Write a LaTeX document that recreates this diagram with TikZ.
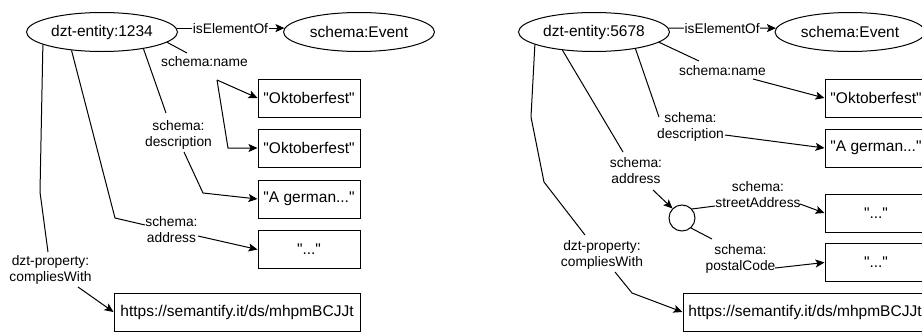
\documentclass[tikz,border=0pt]{standalone}
\usepackage{fontspec}
\setmainfont{Liberation Sans}
\newfontfamily\plainsans{Liberation Sans}
\usetikzlibrary{shapes.geometric,arrows.meta}
\begin{document}
\begin{tikzpicture}[x=1pt,y=-1pt,
  ent/.style={draw, ellipse, line width=1pt, minimum width=151pt, minimum height=39pt, inner sep=0pt, font=\plainsans\fontsize{15.5}{18}\selectfont},
  lit/.style={draw, rectangle, line width=1pt, minimum width=102pt, minimum height=38pt, inner sep=0pt, font=\plainsans\fontsize{15.5}{18}\selectfont},
  lbl/.style={align=center, inner sep=1pt, font=\plainsans\fontsize{13.8}{16}\selectfont},
  edge/.style={line width=1pt},
  arr/.style={line width=1pt, -{Stealth[length=9pt,width=8pt,inset=2pt]}},
  blank/.style={draw, circle, line width=1pt, minimum size=26pt, inner sep=0pt},
]
\clip (0,0) rectangle (922,335);
\fill[white] (0,0) rectangle (922,335);

% ---------------- left graph ----------------
\node[ent] (e1) at (102,32) {dzt-entity:1234};
\node[ent] (ev1) at (359,32) {schema:Event};
\node[lit] (b1) at (309,98) {"Oktoberfest"};
\node[lit] (b2) at (309,148) {"Oktoberfest"};
\node[lit] (b3) at (309,199) {"A german..."};
\node[lit] (b4) at (309,249.5) {"..."};
\node[lit, minimum width=246pt] (u1) at (237,312) {https://semantify.it/ds/mhpmBCJJt};

\node[lbl] (nm1) at (204.5,62) {schema:name};
\node[lbl] (de1) at (178.5,135) {schema:\\description};
\node[lbl] (ad1) at (171.5,229.5) {schema:\\address};
\node[lbl] (cw1) at (50.5,270) {dzt-property:\\compliesWith};

\coordinate (n1a) at (187,53);
\coordinate (n1b) at (217,80);
\coordinate (n1c) at (228,148);
\coordinate (d1a) at (166,113);
\coordinate (d1b) at (184,152);
\coordinate (d1c) at (203,193);
\coordinate (a1a) at (115,218);
\coordinate (a1b) at (145,225);
\coordinate (a1c) at (198,236);
\coordinate (c1a) at (40,192);
\coordinate (c1b) at (48,252);
\coordinate (c1c) at (78,287);

\draw[arr] (e1.3) -- node[lbl, fill=white, inner sep=0.5pt] (iso1) {isElementOf} (ev1.177);
\draw[edge] (e1.-9) -- (n1a);
\draw[arr] (n1b) -- (b1.west);
\draw[arr] (n1b) -- (n1c) -- (b2.west);
\draw[edge] (e1.-22) -- (d1a);
\draw[arr] (d1b) -- (d1c) -- (b3.west);
\draw[edge] (e1.-149) -- (a1a) -- (a1b);
\draw[arr] (a1c) -- (b4.west);
\draw[edge] (e1.-168) -- (c1a) -- (c1b);
\draw[arr] (c1c) -- (u1.west);

% ---------------- right graph ----------------
\node[ent] (e2) at (594,32) {dzt-entity:5678};
\node[ent, minimum width=150pt] (ev2) at (850,32) {schema:Event};
\node[lit] (b5) at (876,98) {"Oktoberfest"};
\node[lit] (b6) at (876,148) {"A german..."};
\node[lit] (b7) at (876,213) {"..."};
\node[lit] (b8) at (876,262.5) {"..."};
\node[lit, minimum width=244pt] (u2) at (805,312) {https://semantify.it/ds/mhpmBCJJt};
\node[blank] (c2) at (682,218) {};

\node[lbl] (nm2) at (722.5,71) {schema:name};
\node[lbl] (de2) at (690.5,126.5) {schema:\\description};
\node[lbl] (ad2) at (636,171) {schema:\\address};
\node[lbl] (sa2) at (758,195) {schema:\\streetAddress};
\node[lbl] (pc2) at (740.5,259) {schema:\\postalCode};
\node[lbl] (cw2) at (602,255) {dzt-property:\\compliesWith};

\coordinate (n2a) at (699,61);
\coordinate (n2b) at (753,79);
\coordinate (d2a) at (659,117);
\coordinate (d2b) at (725,135);
\coordinate (a2a) at (623,152);
\coordinate (a2b) at (653,190);
\coordinate (s2a) at (715,206);
\coordinate (s2b) at (800,204);
\coordinate (p2a) at (712,239);
\coordinate (p2b) at (775,268);
\coordinate (c2a) at (531,117);
\coordinate (c2b) at (544,182);
\coordinate (c2c) at (585,235);
\coordinate (c2d) at (615,272);
\coordinate (c2e) at (632,293);

\draw[arr] (e2.3) -- node[lbl, fill=white, inner sep=0.5pt] (iso2) {isElementOf} (ev2.177);
\draw[edge] (e2.-9) -- (n2a);
\draw[arr] (n2b) -- (b5.west);
\draw[edge] (e2.-22) -- (d2a);
\draw[arr] (d2b) -- (b6.west);
\draw[edge] (e2.-150) -- (a2a);
\draw[arr] (a2b) -- (c2.135);
\draw[edge] (c2.42) -- (s2a);
\draw[arr] (s2b) -- (b7.west);
\draw[edge] (c2.-48) -- (p2a);
\draw[arr] (p2b) -- (b8.west);
\draw[edge] (e2.-168) -- (c2a) -- (c2b) -- (c2c);
\draw[arr] (c2d) -- (c2e) -- (u2.west);
\end{tikzpicture}
\end{document}
